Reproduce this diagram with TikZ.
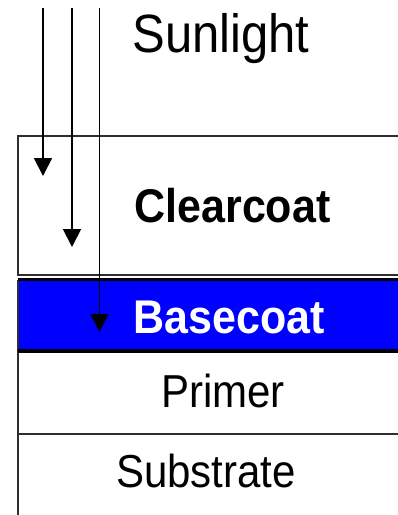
\documentclass[tikz,border=0pt]{standalone}
\usepackage{fontspec}
\setmainfont{Liberation Sans}
\usetikzlibrary{arrows.meta}
\begin{document}
\begin{tikzpicture}[x=1pt,y=-1pt,
  edge/.style={draw=black!82, line width=2pt},
  thickedge/.style={draw=black, line width=3pt},
  layer/.style={rectangle, inner sep=0pt, outer sep=0pt, anchor=north west, minimum width=420pt},
  ray/.style={draw=black, line width=1.8pt, -{Triangle[width=18pt,length=18pt]}},
  lbl/.style={anchor=base, inner sep=0pt, outer sep=0pt, yscale=1.1},
  reg/.style={lbl, font=\fontsize{42}{48}\selectfont},
  bld/.style={lbl, font=\fontsize{43}{48}\selectfont\bfseries},
]
\useasboundingbox (0,0) rectangle (398,515);
\clip (0,0) rectangle (398,515);
% layers
\node[layer, edge, minimum height=139pt] (clear) at (17.5,136) {};
\node[layer, fill={rgb,255:red,0;green,0;blue,255}, minimum height=69pt] (base) at (17.5,279.5) {};
\node[layer, minimum height=86pt] (primer) at (17.5,348) {};
\node[layer, minimum height=100pt] (subst) at (17.5,434) {};
\draw[edge] (base.north west) -- (subst.south west);
\draw[thickedge] (base.north west) -- (base.north east);
\draw[draw=black, line width=4pt] ([yshift=-2pt]base.south west) -- ([yshift=-2pt]base.south east);
\draw[edge] (subst.north west) -- (subst.north east);
% labels
\node[lbl, font=\fontsize{49}{56}\selectfont] (sun) at (221,52) {Sunlight};
\node[bld] (cc) at (232.5,222) {Clearcoat};
\node[bld, text=white] (bc) at (229,333) {Basecoat};
\node[reg] (pr) at (223,407) {Primer};
\node[reg] (sb) at (206,487) {Substrate};
% rays
\coordinate (s1) at (43,8);  \coordinate (e1) at (43,176);
\coordinate (s2) at (72,8);  \coordinate (e2) at (72,247);
\coordinate (s3) at (99.5,8); \coordinate (e3) at (99.5,332);
\draw[ray] (s1) -- (e1);
\draw[ray] (s2) -- (e2);
\draw[ray] (s3) -- (e3);
\end{tikzpicture}
\end{document}
